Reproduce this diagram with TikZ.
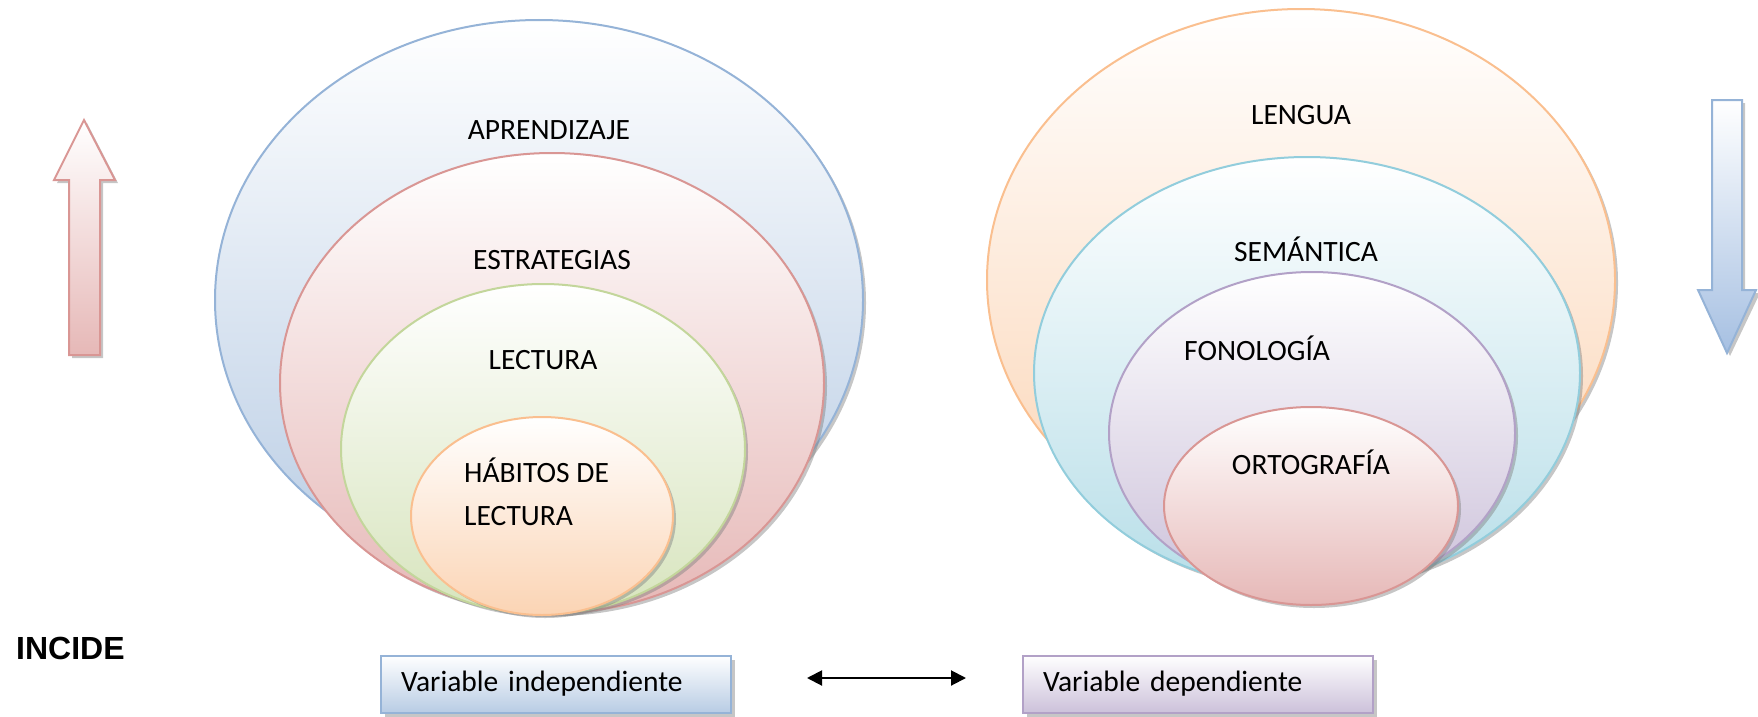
\documentclass[tikz,border=0pt]{standalone}
\usepackage{fontspec}
\setmainfont{Carlito}
\newfontfamily\arialfont{Liberation Sans}
\usetikzlibrary{shapes.geometric,arrows.meta}
\definecolor{bluebd}{RGB}{149,179,215}
\definecolor{bluebt}{RGB}{184,204,228}
\definecolor{bluearr}{RGB}{166,192,226}
\definecolor{redbd}{RGB}{217,150,148}
\definecolor{redbt}{RGB}{230,184,183}
\definecolor{greenbd}{RGB}{195,214,155}
\definecolor{greenbt}{RGB}{215,228,189}
\definecolor{orangebd}{RGB}{250,191,143}
\definecolor{orangebt}{RGB}{251,212,180}
\definecolor{cyanbd}{RGB}{146,205,220}
\definecolor{cyanbt}{RGB}{183,222,232}
\definecolor{purplebd}{RGB}{178,161,199}
\definecolor{purplebt}{RGB}{204,193,218}
\begin{document}
\begin{tikzpicture}[x=1pt,y=-1pt,
  ell/.style={ellipse, inner sep=0pt, line width=2pt, top color=white},
  shad/.style={ellipse, inner sep=0pt, fill=black!50, opacity=0.45},
  lbl/.style={font=\fontsize{29.5}{43}\selectfont, inner sep=0pt, text=black},
  vbox/.style={rectangle, line width=2pt, top color=white, minimum width=350pt, minimum height=57pt, inner xsep=20pt, text width=310pt, align=left, font=\fontsize{29.5}{34}\selectfont},
  bshad/.style={rectangle, fill=black!50, opacity=0.45, minimum width=350pt, minimum height=57pt}]
\useasboundingbox (0,0) rectangle (1758,717);

% ---------- left group ----------
\node[shad, minimum width=648pt, minimum height=560pt] (s1) at (542,303) {};
\node[ell, draw=bluebd, bottom color=bluebt, minimum width=648pt, minimum height=560pt] (aprend) at (539,300) {};
\node[shad, minimum width=544pt, minimum height=460pt] (s2) at (555,386) {};
\node[ell, draw=redbd, bottom color=redbt, minimum width=544pt, minimum height=460pt] (estrat) at (552,383) {};
\node[shad, minimum width=404pt, minimum height=330pt] (s3) at (546,452) {};
\node[ell, draw=greenbd, bottom color=greenbt, minimum width=404pt, minimum height=330pt] (lect) at (543,449) {};
\node[shad, minimum width=262pt, minimum height=198pt] (s4) at (545,519) {};
\node[ell, draw=orangebd, bottom color=orangebt, minimum width=262pt, minimum height=198pt] (habit) at (542,516) {};

\node[lbl] (t1) at (549,130) {APRENDIZAJE};
\node[lbl] (t2) at (552,260) {ESTRATEGIAS};
\node[lbl] (t3) at (543,360) {LECTURA};
\node[lbl, align=left, anchor=north west] (t4) at (464,458) {HÁBITOS DE\\LECTURA};

% ---------- right group ----------
\node[shad, minimum width=628pt, minimum height=542pt] (s5) at (1304,283) {};
\node[ell, draw=orangebd, bottom color=orangebt, minimum width=628pt, minimum height=542pt] (lengua) at (1301,280) {};
\node[shad, minimum width=546pt, minimum height=432pt] (s6) at (1310,376) {};
\node[ell, draw=cyanbd, bottom color=cyanbt, minimum width=546pt, minimum height=432pt] (seman) at (1307,373) {};
\node[shad, minimum width=406pt, minimum height=322pt] (s7) at (1315,436) {};
\node[ell, draw=purplebd, bottom color=purplebt, minimum width=406pt, minimum height=322pt] (fono) at (1312,433) {};
\node[shad, minimum width=294pt, minimum height=198pt] (s8) at (1314,509) {};
\node[ell, draw=redbd, bottom color=redbt, minimum width=294pt, minimum height=198pt] (orto) at (1311,506) {};

\node[lbl] (t5) at (1301,115) {LENGUA};
\node[lbl] (t6) at (1306,249) {SEMÁNTICA};
\node[lbl, anchor=west] (t7) at (1184,348) {FONOLOGÍA};
\node[lbl] (t8) at (1311,462) {ORTOGRAFÍA};

% ---------- arrows ----------
\fill[black!50, opacity=0.45] (87,123) -- (118,183) -- (103,183) -- (103,358) -- (72,358) -- (72,183) -- (57,183) -- cycle;
\path[draw=redbd, line width=2pt, top color=white, bottom color=redbt, line join=miter]
  (84,120) -- (115,180) -- (100,180) -- (100,355) -- (69,355) -- (69,180) -- (54,180) -- cycle;

\fill[black!50, opacity=0.45] (1715,103) -- (1745,103) -- (1745,293) -- (1760,293) -- (1730,356) -- (1700,293) -- (1715,293) -- cycle;
\path[draw=bluebd, line width=2pt, top color=white, bottom color=bluearr, line join=miter]
  (1712,100) -- (1742,100) -- (1742,290) -- (1756,290) -- (1727,353) -- (1698,290) -- (1712,290) -- cycle;

% ---------- bottom row ----------
\node[font=\arialfont\bfseries\fontsize{32}{36}\selectfont, inner sep=0pt, anchor=west] (incide) at (16,648) {INCIDE};

\node[bshad] (vis) at (560,688) {};
\node[vbox, draw=bluebd, bottom color=bluebt] (vi) at (556,684) {Variable independiente};
\node[bshad] (vds) at (1202,688) {};
\node[vbox, draw=purplebd, bottom color=purplebt] (vd) at (1198,684) {Variable dependiente};

\coordinate (la) at (807,678);
\coordinate (ra) at (966,678);
\draw[line width=2pt, {Triangle[length=15pt,width=15pt]}-{Triangle[length=15pt,width=15pt]}] (la) -- (ra);
\end{tikzpicture}
\end{document}
